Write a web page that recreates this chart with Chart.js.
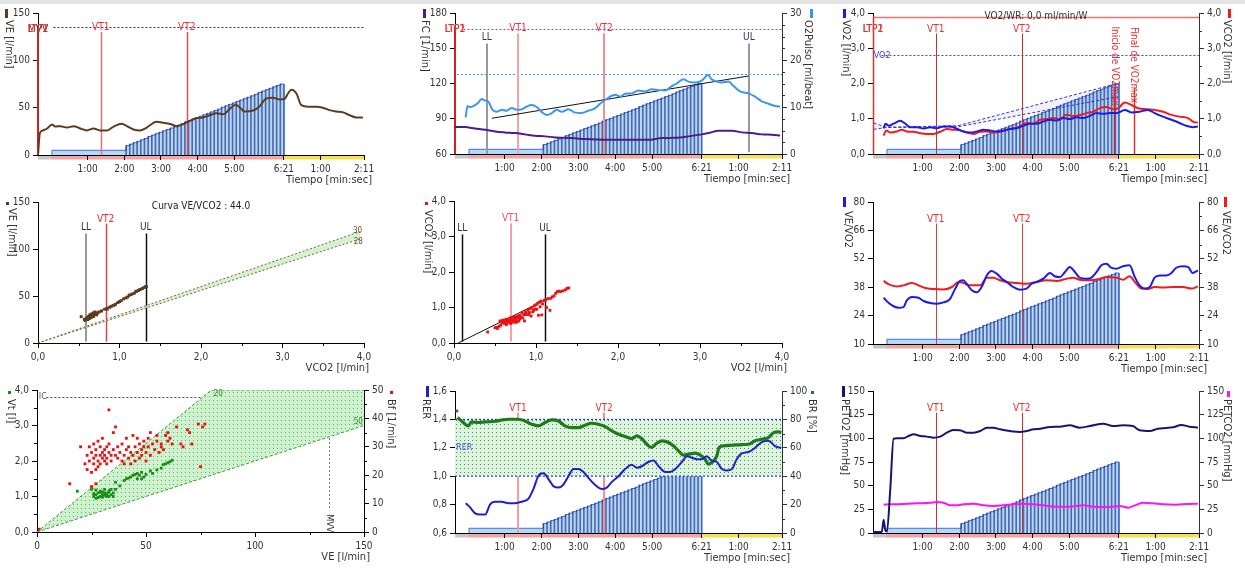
<!DOCTYPE html>
<html><head><meta charset="utf-8"><title>Prueba de esfuerzo</title>
<script src="https://cdn.jsdelivr.net/npm/chart.js@4.4.1/dist/chart.umd.min.js"></script>
<style>
html,body{margin:0;padding:0;background:#fff;}
body{position:relative;width:1245px;height:569px;overflow:hidden;}
.topband{position:absolute;left:0;top:0;width:1245px;height:4px;background:#e4e4e4;}
canvas{position:absolute;display:block;}
</style></head><body>
<div class="topband"></div>
<canvas id="p1" width="415" height="190" style="left:0px;top:0px"></canvas>
<canvas id="p2" width="415" height="190" style="left:415px;top:0px"></canvas>
<canvas id="p3" width="415" height="190" style="left:830px;top:0px"></canvas>
<canvas id="p4" width="415" height="189" style="left:0px;top:190px"></canvas>
<canvas id="p5" width="415" height="189" style="left:415px;top:190px"></canvas>
<canvas id="p6" width="415" height="189" style="left:830px;top:190px"></canvas>
<canvas id="p7" width="415" height="190" style="left:0px;top:379px"></canvas>
<canvas id="p8" width="415" height="190" style="left:415px;top:379px"></canvas>
<canvas id="p9" width="415" height="190" style="left:830px;top:379px"></canvas>
<script>
// ================= DATA =================
// time axis (minutes from start of exercise; recovery continues after 6:21)
const timeRange = [-0.35, 8.53];
const timeTickValues = [1, 2, 3, 4, 5, 6.35, 7.35, 8.53];
const timeTickLabels = ['1:00','2:00','3:00','4:00','5:00','6:21','1:00','2:11'];
const phaseBounds = [-0.35, 0, 6.35, 8.53];      // pre-test | test | recovery
const phaseColors = ['#c6c6c6', '#f4a4a4', '#f7e24e'];

// markers (minutes)
const LTP_T = -0.35, VT1_T = 1.36, VT2_T = 3.70, LL_T = 0.51, UL_T = 7.63;
const INICIO_T = 6.22, FINAL_T = 6.75;

// workload protocol (W) : warm-up + ramp steps
const warmupStart = 0.03, warmupLoad = 10, rampEnd = 6.35;
const rampTimes = [2.05,2.15,2.25,2.35,2.45,2.55,2.65,2.75,2.85,2.95,3.05,3.15,3.25,3.35,3.45,3.55,3.65,3.75,3.85,3.95,4.05,4.15,4.25,4.35,4.45,4.55,4.65,4.75,4.85,4.95,5.05,5.15,5.25,5.35,5.45,5.55,5.65,5.75,5.85,5.95,6.05,6.15,6.25];
const rampLoads = [20,23,26,29,32,35,39,42,45,48,51,54,57,60,63,66,70,73,76,79,82,85,88,91,94,97,101,104,107,110,113,116,119,122,125,128,132,135,138,141,144,147,150];

// Panel 1 : VE
const veTime = [-0.35,-0.30,-0.24,-0.10,0.03,0.12,0.26,0.44,0.62,0.80,0.98,1.16,1.34,1.53,1.71,1.93,2.07,2.25,2.43,2.61,2.88,3.07,3.25,3.43,3.61,3.79,3.97,4.15,4.33,4.51,4.70,4.88,5.04,5.15,5.28,5.51,5.69,5.87,6.05,6.24,6.37,6.46,6.55,6.69,6.82,7.01,7.23,7.41,7.59,7.78,7.96,8.14,8.32,8.50];
const veValues = [0,23,25.6,28,32.3,30,30.5,29,30.5,28,26,28,26,26,30,33,30.5,27,26,29,35,34,32.7,30.5,32.7,36,39,39.7,42,44,43,49,53,50,46,47,51.6,59.7,60.4,58.7,59.4,65,69,65,52.7,51,51,50,47.4,46,45,42,39.7,39.7];

// Panel 2 : FC and O2 pulse
const fcTime = [-0.35,-0.08,0.19,0.47,0.74,1.01,1.28,1.55,1.82,2.10,2.37,2.64,2.91,3.18,3.45,3.73,4.00,4.45,4.90,5.27,5.63,5.99,6.35,6.53,6.81,7.17,7.44,7.71,7.98,8.25,8.48];
const fcValues = [82.9,82.9,81.7,80.6,79.2,78.4,77.8,76.7,75.5,75.0,74.1,73.8,73.3,72.7,72.4,72.1,72.1,72.1,72.1,73.6,73.8,75.0,76.7,77.8,79.8,79.8,78.4,77.8,76.7,76.4,75.8];
const o2pTime = [-0.06,-0.01,0.06,0.15,0.28,0.37,0.46,0.56,0.66,0.78,0.92,1.05,1.19,1.33,1.46,1.60,1.73,1.87,2.01,2.14,2.28,2.41,2.55,2.73,2.91,3.09,3.27,3.45,3.59,3.73,3.86,4.00,4.13,4.27,4.45,4.63,4.81,4.99,5.18,5.36,5.49,5.67,5.85,5.99,6.17,6.35,6.52,6.62,6.76,6.90,7.08,7.21,7.39,7.62,7.80,7.98,8.16,8.35,8.48];
const o2pValues = [7.8,10.2,10.0,10.2,10.9,11.7,11.4,11.1,9.5,9.0,9.4,9.2,9.8,9.4,9.5,10.1,10.4,10.0,8.9,8.3,8.7,9.4,9.0,9.5,8.8,8.7,9.2,9.7,10.7,11.5,12.2,12.6,12.2,12.8,12.9,13.5,13.3,13.8,13.6,13.5,14.2,15.0,15.9,15.4,15.2,15.6,16.8,15.9,15.4,15.2,15.4,14.5,13.3,12.9,12.2,11.2,10.7,10.2,10.1];
const o2pRegTime = [0.65, 7.62];
const o2pRegValues = [7.6, 16.6];

// Panel 3 : VO2 and VCO2
const vo2Time = [-0.06,-0.01,0.08,0.21,0.39,0.53,0.66,0.85,1.03,1.21,1.39,1.57,1.75,1.93,2.11,2.29,2.48,2.66,2.84,3.02,3.20,3.38,3.56,3.74,3.93,4.11,4.29,4.47,4.65,4.83,5.01,5.19,5.37,5.56,5.74,5.92,6.10,6.28,6.51,6.69,6.91,7.14,7.32,7.55,7.78,8.00,8.18,8.36,8.50];
const vo2Values = [0.73,0.86,0.80,0.86,0.94,0.86,0.76,0.76,0.72,0.76,0.73,0.78,0.78,0.72,0.64,0.61,0.64,0.69,0.67,0.64,0.66,0.71,0.73,0.80,0.86,0.86,0.92,0.97,0.95,1.02,0.99,1.04,1.02,1.08,1.16,1.14,1.16,1.16,1.25,1.18,1.20,1.25,1.16,1.06,0.97,0.88,0.80,0.76,0.78];
const vco2Time = [-0.06,0.01,0.12,0.30,0.44,0.57,0.76,0.94,1.12,1.30,1.48,1.66,1.84,2.02,2.20,2.39,2.57,2.75,2.93,3.11,3.29,3.47,3.65,3.83,4.02,4.20,4.38,4.56,4.74,4.92,5.10,5.28,5.47,5.65,5.83,6.01,6.19,6.33,6.51,6.69,6.87,7.10,7.32,7.55,7.78,8.00,8.23,8.36,8.50];
const vco2Values = [0.52,0.67,0.61,0.64,0.69,0.64,0.63,0.59,0.57,0.57,0.63,0.71,0.69,0.67,0.61,0.57,0.63,0.64,0.61,0.63,0.69,0.73,0.78,0.88,0.86,0.97,0.99,1.02,0.99,1.11,1.08,1.10,1.16,1.20,1.30,1.33,1.27,1.30,1.46,1.39,1.30,1.27,1.25,1.20,1.11,1.06,1.02,0.92,0.89];
const predTime = [-0.33, 0.0, 1.95, 6.30];
const predHigh = [0.88, 0.76, 0.80, 2.00];
const predLow = [0.70, 0.75, 0.77, 1.62];

// Panel 4 : VE vs VCO2
const p4Vco2 = [0.53,0.57,0.58,0.59,0.60,0.61,0.62,0.63,0.63,0.64,0.65,0.66,0.67,0.68,0.68,0.69,0.70,0.71,0.72,0.73,0.75,0.78,0.82,0.85,0.88,0.90,0.93,0.95,0.98,1.00,1.02,1.05,1.08,1.10,1.12,1.15,1.18,1.20,1.23,1.25,1.28,1.30,1.32,1.33];
const p4Ve = [28,25,24,26,27,25,28,29,26,30,27,31,29,32,28,30,33,31,30,32,33,34,36,36,38,39,40,41,43,44,45,47,48,49,51,52,53,55,56,57,58,59,60,60];
const p4RegX = [0.56, 1.33];
const p4RegY = [25, 59];
const p4RefX = [0, 3.95];
const p4Ref30 = [0, 118.5];
const p4Ref28 = [0, 110.6];

// Panel 5 : VCO2 vs VO2
const p5Vo2 = [0.41,0.50,0.52,0.53,0.55,0.57,0.58,0.60,0.61,0.62,0.63,0.64,0.65,0.66,0.67,0.68,0.69,0.70,0.72,0.73,0.74,0.75,0.76,0.78,0.79,0.80,0.82,0.83,0.85,0.86,0.87,0.88,0.90,0.92,0.93,0.94,0.95,0.97,0.98,1.00,1.01,1.02,1.03,1.04,1.05,1.06,1.07,1.08,1.10,1.12,1.13,1.15,1.17,1.18,1.20,1.22,1.24,1.26,1.28,1.30,1.33,1.36,1.38,1.40,0.56,0.59,0.62,0.64,0.66,0.68,0.70,0.71,0.73,0.75,0.77,0.78,0.80,0.81,0.84,0.88,0.91,0.96,0.99];
const p5Vco2 = [0.31,0.43,0.44,0.41,0.47,0.50,0.58,0.62,0.55,0.65,0.60,0.52,0.66,0.58,0.63,0.70,0.55,0.66,0.62,0.72,0.68,0.58,0.74,0.70,0.62,0.78,0.72,0.85,0.80,0.62,0.88,0.80,0.92,0.86,0.97,0.76,1.00,0.92,1.05,1.08,0.95,1.12,0.78,1.15,1.02,1.18,0.79,1.10,1.20,1.22,1.00,1.25,0.92,1.26,1.30,1.33,1.40,1.45,1.46,1.45,1.47,1.50,1.54,1.55,0.62,0.64,0.58,0.67,0.64,0.60,0.72,0.58,0.64,0.66,0.60,0.76,0.68,0.74,0.70,0.84,0.80,0.88,0.95];
const p5RegX = [0.05, 1.12];
const p5RegY = [0.0, 1.22];

// Panel 6 : VE/VO2 and VE/VCO2
const eqO2Time = [-0.06,0.08,0.21,0.35,0.48,0.57,0.71,0.89,1.03,1.21,1.39,1.57,1.75,1.89,2.02,2.11,2.20,2.34,2.48,2.61,2.75,2.88,3.02,3.16,3.29,3.47,3.65,3.83,3.97,4.11,4.29,4.47,4.60,4.74,4.88,5.01,5.15,5.28,5.47,5.60,5.74,5.87,6.01,6.14,6.28,6.46,6.64,6.78,6.91,7.05,7.19,7.32,7.46,7.64,7.78,7.91,8.09,8.23,8.36,8.50];
const eqO2Values = [32.8,30.2,28.6,27.9,28.2,31.5,33.2,32.8,31.2,30.2,29.9,30.5,32.3,37.3,41.1,41.4,39.7,36.5,35.5,38.1,43.8,46.0,44.7,42.2,40.6,38.1,36.8,37.3,39.7,40.6,42.2,45.0,43.4,43.0,45.5,48.0,45.5,42.7,42.2,42.7,45.5,48.8,49.6,47.6,47.1,48.3,48.8,43.0,38.9,37.3,38.1,42.7,43.8,43.8,45.0,47.6,48.3,48.0,45.0,46.3];
const eqCO2Time = [-0.06,0.08,0.30,0.48,0.71,0.89,1.07,1.30,1.57,1.80,1.98,2.11,2.29,2.57,2.75,2.93,3.11,3.29,3.56,3.83,4.11,4.38,4.65,4.92,5.10,5.28,5.56,5.83,6.01,6.28,6.46,6.64,6.78,6.96,7.14,7.32,7.55,7.82,8.09,8.32,8.50];
const eqCO2Values = [41.1,39.4,38.4,38.9,40.1,38.9,37.6,37.1,36.9,38.1,40.6,40.1,38.9,38.9,42.7,42.7,41.4,40.6,40.1,39.7,40.6,41.4,41.1,42.2,42.7,41.7,41.4,42.2,43.0,42.7,41.7,43.4,40.6,37.3,37.1,38.1,37.8,38.1,38.1,37.3,38.4];

// Panel 7 : Vt and Bf vs VE
const p7VtVe = [18.5,25,26,27,27,28,29,29,30,30,31,31,32,32,33,33,34,35,35,28,26,34,36,38,40,41,42,43,44,45,46,47,48,49,50,52,53,55,57,58,59,60,61,62,46,48,36,29,31,33,27,30,32];
const p7Vt = [1.15,1.2,1.0,0.95,1.05,1.1,1.0,1.15,1.05,0.98,1.1,1.2,1.0,1.08,1.12,1.0,1.05,1.1,1.0,0.97,1.08,1.2,1.2,1.3,1.45,1.5,1.52,1.55,1.6,1.62,1.65,1.6,1.68,1.55,1.62,1.72,1.65,1.75,1.8,1.9,1.92,1.95,1.98,2.02,1.5,1.5,1.4,1.12,1.03,1.16,1.18,1.13,1.06];
const p7BfVe = [22,23,23,24,24,25,25,26,26,26,27,27,27,28,28,28,29,29,29,30,30,30,31,31,31,32,32,32,33,33,34,34,35,35,36,36,37,37,38,39,39,40,40,41,41,42,42,43,43,44,44,45,45,46,46,47,47,48,48,49,49,50,50,51,51,52,52,53,54,55,55,56,57,57,58,59,60,60,61,62,64,66,67,69,70,71,74,75,76,77,15,20,25,27,33,1];
const p7Bf = [24,27,22,25,30,21,28,24,26,31,22,27,29,25,23,32,27,30,24,26,28,33,25,29,27,30,26,24,28,31,27,25,29,35,37,27,30,26,28,25,31,27,24,29,33,26,30,28,24,34,27,30,25,28,33,31,26,29,27,32,30,28,25,33,30,27,35,31,29,32,34,28,30,31,29,34,32,35,33,31,37,31,30,36,35,31,38,23,37,38,17,30,16,17,43,1];
const p7ZoneVe = [0, 80, 150];
const p7ZoneHigh = [0, 4.0, 4.0];
const p7ZoneLow = [0, 1.6, 3.0];

// Panel 8 : RER and BR
const rerTime = [-0.06,0.06,0.19,0.33,0.47,0.60,0.74,0.92,1.10,1.28,1.46,1.64,1.78,1.91,2.05,2.19,2.32,2.46,2.59,2.73,2.87,3.00,3.14,3.27,3.45,3.64,3.77,3.91,4.09,4.27,4.45,4.59,4.72,4.90,5.04,5.18,5.36,5.49,5.63,5.81,5.95,6.08,6.22,6.35,6.49,6.62,6.76,6.90,7.03,7.17,7.30,7.44,7.62,7.80,7.98,8.16,8.35,8.51];
const rerValues = [0.81,0.78,0.74,0.73,0.73,0.80,0.82,0.82,0.81,0.81,0.82,0.84,0.91,1.00,1.02,0.98,0.93,0.92,0.94,1.00,1.05,1.05,1.03,0.99,0.94,0.91,0.92,0.96,1.00,1.05,1.08,1.06,1.07,1.10,1.11,1.07,1.03,1.03,1.05,1.10,1.14,1.13,1.12,1.12,1.14,1.11,1.10,1.05,1.04,1.05,1.12,1.16,1.17,1.20,1.24,1.25,1.21,1.20];
const brTime = [-0.28,-0.17,0.01,0.10,0.28,0.47,0.74,0.92,1.10,1.37,1.55,1.73,1.91,2.10,2.28,2.46,2.64,2.82,3.00,3.18,3.36,3.54,3.73,3.91,4.09,4.27,4.45,4.59,4.72,4.86,4.99,5.13,5.27,5.45,5.58,5.72,5.85,5.99,6.17,6.31,6.44,6.53,6.67,6.76,6.82,6.94,7.17,7.44,7.62,7.80,7.98,8.16,8.30,8.44,8.51];
const brValues = [81.3,78.9,75.4,78.2,77.8,78.2,78.7,79.6,80.1,80.1,78.9,76.6,75.4,77.8,79.6,78.9,75.4,74.2,74.2,75.9,77.3,76.6,74.9,71.9,69.6,67.9,66.5,68.4,66.5,62.5,60.2,63.2,64.9,63.7,61.4,57.8,54.8,55.5,56.2,54.8,52.0,48.5,50.8,54.3,60.2,61.4,61.8,62.3,62.5,64.9,66.0,67.2,70.7,71.2,70.7];
const brOutlierTime = [-0.30];
const brOutlierValue = [85.9];
const brZoneTime = [-0.35, 8.53];
const brZoneHigh = [80, 80];
const brZoneLow = [40, 40];

// Panel 9 : PETO2 and PETCO2
const peto2Time = [-0.35,-0.11,-0.06,-0.01,0.03,0.12,0.21,0.30,0.48,0.62,0.76,0.94,1.12,1.30,1.48,1.66,1.84,2.02,2.20,2.39,2.57,2.75,2.93,3.11,3.38,3.65,3.83,4.02,4.20,4.47,4.74,5.01,5.28,5.56,5.92,6.19,6.46,6.73,6.91,7.19,7.41,7.64,7.82,8.05,8.27,8.50];
const peto2Values = [1,1,14,2,2,46,99.6,100,100,102.5,104.2,102.5,101.8,100.7,101.8,106,108.8,108.5,106,106,107.7,111.3,111.3,109.5,107.7,106.7,107.7,109.5,110.2,112,112.3,113.7,111.3,113,115.5,113,113.7,113,108.5,107.7,110.2,110.9,111.6,114.1,112.3,111.3];
const petco2Time = [-0.06,0.12,0.48,0.85,1.21,1.39,1.57,1.75,1.93,2.11,2.39,2.66,2.93,3.20,3.47,3.74,4.02,4.29,4.65,5.01,5.37,5.74,6.10,6.37,6.60,6.78,7.00,7.28,7.55,7.91,8.18,8.50];
const petco2Values = [29.9,30.3,30.6,31.3,32,32.7,32,29.2,29.2,30.3,31,29.2,28.5,29.2,30.3,31,30.3,29.2,27.8,27.8,29.2,27.5,27.5,28.5,26.8,29.2,32,31.3,30.3,29.9,30.6,31];

// tick label values
const veTicks = [0, 50, 100, 150];
const fcTicks = [60, 90, 120, 150, 180];
const o2pTicks = [0, 10, 20, 30];
const litreTicks = [0, 1, 2, 3, 4];
const eqTicks = [10, 24, 38, 52, 66, 80];
const rerTicks = [0.6, 0.8, 1.0, 1.2, 1.4, 1.6];
const brTicks = [0, 20, 40, 60, 80, 100];
const petTicks = [0, 25, 50, 75, 100, 125, 150];
const bfTicks = [0, 10, 20, 30, 40, 50];

// ================= RENDERING =================
const FF = '"Liberation Sans Narrow","DejaVu Sans Condensed","Liberation Sans",Arial,sans-serif';
Chart.defaults.font.family = FF;
Chart.defaults.font.size = 10;
Chart.defaults.color = '#333';

const C = {
  brown:'#5e3c1e', fc:'#4b1c8c', o2p:'#3a96f0', vo2:'#1c1ce8', vco2:'#f01c1c',
  rer:'#2020c8', br:'#1f7a1f', peto2:'#16166e', petco2:'#ff10ff', red:'#e83030'
};

const xy = (xs, ys) => xs.map((x, i) => ({x: x, y: ys[i]}));
const intFmt = v => String(v);
const commaFmt = v => v.toFixed(1).replace('.', ',');

function dotPattern(bg, dot) {
  const c = document.createElement('canvas'); c.width = 4; c.height = 4;
  const g = c.getContext('2d');
  g.fillStyle = bg; g.fillRect(0, 0, 4, 4);
  g.fillStyle = dot; g.fillRect(1, 1, 1, 1);
  return document.createElement('canvas').getContext('2d').createPattern(c, 'repeat');
}

function axis(pos, min, max, ticks, fmt, color) {
  return {
    type:'linear', position:pos, min:min, max:max, bounds:'data', offset:false,
    afterBuildTicks: s => { s.ticks = ticks.map(v => ({value:v})); },
    ticks:{autoSkip:false, maxRotation:0, minRotation:0, padding:3, color:'#333', font:{size:10},
           callback:(v, i) => fmt(v, i)},
    grid:{display:true, drawOnChartArea:false, drawTicks:true, tickLength:5, color:color || '#000', offset:false},
    border:{display:true, color:color || '#000', width:1}
  };
}
const timeAxis = () => axis('bottom', timeRange[0], timeRange[1], timeTickValues, (v, i) => timeTickLabels[i]);
const workAxis = () => ({type:'linear', display:false, min:0, max:300, position:'left'});

function line(data, color, axisId, width, extra) {
  const ds = Object.assign({type:'line', data:data, borderColor:color, backgroundColor:color, borderWidth:width || 2,
    pointRadius:0, tension:0.4, cubicInterpolationMode:'monotone', yAxisID:axisId, fill:false, order:1}, extra || {});
  if (ds.tension === 0) ds.cubicInterpolationMode = 'default';
  return ds;
}
function points(data, color, axisId, r) {
  return {type:'line', data:data, showLine:false, pointRadius:r || 2.1, pointStyle:'rect', pointBorderWidth:0,
    pointBackgroundColor:color, borderColor:color, backgroundColor:color, yAxisID:axisId, order:1};
}
function workloadSets() {
  const pts = [{x:warmupStart, y:0}, {x:warmupStart, y:warmupLoad}];
  rampTimes.forEach((t, i) => {
    pts.push({x:t, y:i === 0 ? warmupLoad : rampLoads[i - 1]});
    pts.push({x:t, y:rampLoads[i]});
  });
  pts.push({x:rampEnd, y:rampLoads[rampLoads.length - 1]});
  pts.push({x:rampEnd, y:0});
  return [
    {type:'line', data:pts, yAxisID:'w', borderColor:'rgba(55,95,205,0.9)', borderWidth:1,
     backgroundColor:'rgba(165,210,248,0.85)', fill:'origin', pointRadius:0, tension:0,
     cubicInterpolationMode:'default', order:20},
    {type:'bar', data:xy(rampTimes, rampLoads), yAxisID:'w', backgroundColor:'rgba(22,36,125,0.62)', barThickness:1,
     order:19, isWorkload:true}
  ];
}

function drawLines(chart, o) {
  const ctx = chart.ctx, ca = chart.chartArea, xs = chart.scales.x;
  ctx.save();
  (o.hlines || []).forEach(h => {
    const ys = chart.scales[h.axis || 'y'];
    const y = Math.round(ys.getPixelForValue(h.v)) + 0.5;
    const x0 = h.from != null ? xs.getPixelForValue(h.from) : ca.left;
    const x1 = h.to != null ? xs.getPixelForValue(h.to) : ca.right;
    ctx.strokeStyle = h.color; ctx.lineWidth = h.width || 1; ctx.setLineDash(h.dash || []);
    ctx.beginPath(); ctx.moveTo(x0, y); ctx.lineTo(x1, y); ctx.stroke();
  });
  (o.vlines || []).forEach(l => {
    const ys = chart.scales[l.axis || 'y'];
    const w = l.width || 1;
    const x = Math.round(xs.getPixelForValue(l.x)) + (w % 2 ? 0.5 : 0);
    const y0 = ys.getPixelForValue(l.top);
    const y1 = l.bottom != null ? ys.getPixelForValue(l.bottom) : ca.bottom;
    ctx.strokeStyle = l.color; ctx.lineWidth = w; ctx.setLineDash(l.dash || []);
    ctx.beginPath(); ctx.moveTo(x, y0); ctx.lineTo(x, y1); ctx.stroke();
  });
  ctx.restore();
}

function drawMinor(chart, o) {
  const ctx = chart.ctx, ca = chart.chartArea;
  (o.minor || []).forEach(m => {
    const s = chart.scales[m.axis];
    const n = Math.round((s.max - s.min) / m.step);
    ctx.save(); ctx.strokeStyle = m.color || '#000'; ctx.lineWidth = 1; ctx.beginPath();
    for (let i = 1; i < n; i++) {
      const v = s.min + i * m.step;
      if (s.ticks.some(t => Math.abs(t.value - v) < 1e-6)) continue;
      const p = Math.round(s.getPixelForValue(v)) + 0.5;
      if (s.position === 'bottom') { ctx.moveTo(p, ca.bottom); ctx.lineTo(p, ca.bottom + 3); }
      else if (s.position === 'left') { ctx.moveTo(ca.left - 3, p); ctx.lineTo(ca.left, p); }
      else { ctx.moveTo(ca.right, p); ctx.lineTo(ca.right + 3, p); }
    }
    ctx.stroke(); ctx.restore();
  });
}

function drawTexts(chart, o) {
  const ctx = chart.ctx, ca = chart.chartArea, xs = chart.scales.x;
  ctx.save();
  ctx.textBaseline = 'middle';
  (o.vlines || []).forEach(l => {
    if (!l.label) return;
    const ys = chart.scales[l.axis || 'y'];
    ctx.font = '10px ' + FF; ctx.fillStyle = l.labelColor || l.color; ctx.textAlign = 'center';
    ctx.fillText(l.label, xs.getPixelForValue(l.x), ys.getPixelForValue(l.top) - (l.gap || 4.5));
  });
  (o.texts || []).forEach(t => {
    const ys = chart.scales[t.axis || 'y'];
    const x = (t.x === 'center' ? (ca.left + ca.right) / 2 : xs.getPixelForValue(t.x)) + (t.dx || 0);
    const y = (t.y != null ? ys.getPixelForValue(t.y) : ca.top + t.top) + (t.dy || 0);
    ctx.font = (t.size || 10) + 'px ' + FF; ctx.fillStyle = t.color || '#333';
    if (t.rot) {
      ctx.save(); ctx.translate(x, y); ctx.rotate(Math.PI / 2); ctx.textAlign = 'left';
      ctx.fillText(t.text, 0, 0); ctx.restore();
    } else { ctx.textAlign = t.align || 'center'; ctx.fillText(t.text, x, y); }
  });
  (o.titles || []).forEach(t => {
    if (t.marker) { ctx.fillStyle = t.marker.color; ctx.fillRect(t.marker.x, t.marker.y, t.marker.w, t.marker.h); }
    ctx.save(); ctx.translate(t.cx, t.y0); ctx.rotate(Math.PI / 2);
    ctx.font = '11px ' + FF; ctx.fillStyle = '#333'; ctx.textAlign = 'left';
    ctx.fillText(t.text, 0, 0); ctx.restore();
  });
  if (o.xTitle) {
    ctx.font = '11px ' + FF; ctx.fillStyle = '#333'; ctx.textAlign = 'right';
    ctx.fillText(o.xTitle.text, ca.right + o.xTitle.dx, ca.bottom + o.xTitle.dy);
  }
  ctx.restore();
  drawMinor(chart, o);
}

const decoPlugin = {
  id:'deco',
  beforeDraw(chart, a, o) {
    if (!o.phases) return;
    const ctx = chart.ctx, ca = chart.chartArea, x = chart.scales.x;
    for (let i = 0; i < phaseBounds.length - 1; i++) {
      const p0 = x.getPixelForValue(phaseBounds[i]), p1 = x.getPixelForValue(phaseBounds[i + 1]);
      ctx.fillStyle = phaseColors[i];
      ctx.fillRect(p0, ca.bottom + 1, p1 - p0, 3.5);
    }
  },
  beforeDatasetsDraw(chart, a, o) { if (!o.afterWorkload) drawLines(chart, o); },
  afterDatasetDraw(chart, a, o) {
    if (o.afterWorkload && chart.data.datasets[a.index].isWorkload) drawLines(chart, o);
  },
  afterDraw(chart, a, o) { drawTexts(chart, o); }
};

function makeChart(id, area, scales, datasets, deco) {
  const cv = document.getElementById(id);
  const W = cv.width, H = cv.height;
  scales.x.afterFit = s => { s.height = H - area.B; };
  if (scales.y) scales.y.afterFit = s => { s.width = area.L; };
  if (scales.y2) scales.y2.afterFit = s => { s.width = W - area.R; };
  return new Chart(cv, {
    type:'line',
    data:{datasets:datasets},
    options:{
      responsive:false, maintainAspectRatio:false, devicePixelRatio:1, animation:false, events:[],
      layout:{autoPadding:false, padding:{top:area.T, left:0, bottom:0, right:scales.y2 ? 0 : W - area.R}},
      scales:scales,
      plugins:{legend:{display:false}, tooltip:{enabled:false}, deco:deco}
    },
    plugins:[decoPlugin]
  });
}

const TX = {text:'Tiempo [min:sec]', dx:8, dy:25};
const bar = (x, y, h, color) => ({x:x, y:y, w:3, h:h, color:color});
const sq = (x, y, color) => ({x:x, y:y, w:3, h:3, color:color});

// ---- Panel 1 : VE vs time
makeChart('p1', {L:38, R:364, T:13, B:155},
  {x:timeAxis(), y:axis('left', 0, 150, veTicks, intFmt), w:workAxis()},
  [line(xy(veTime, veValues), C.brown, 'y', 2)].concat(workloadSets()),
  {phases:true, afterWorkload:true,
   hlines:[{v:135, from:0.07, color:'#333', dash:[2,2]}],
   vlines:[{x:LTP_T, top:137, color:'#d02020', width:2},
           {x:VT1_T, top:130, color:'#f07070', width:1.5, label:'VT1', labelColor:C.red},
           {x:VT2_T, top:130, color:'#e05050', width:1.5, label:'VT2', labelColor:C.red}],
   texts:[{text:'MVV', x:LTP_T, top:16, color:'#333'},
          {text:'LTP1', x:LTP_T, top:16, color:C.red}, {text:'LTP2', x:LTP_T, top:16, color:C.red}],
   titles:[{text:'VE [l/min]', cx:9, y0:20, marker:bar(5, 9, 9, C.brown)}],
   xTitle:TX});

// ---- Panel 2 : FC and O2 pulse
makeChart('p2', {L:40, R:367, T:13, B:154},
  {x:timeAxis(), y:axis('left', 60, 180, fcTicks, intFmt), y2:axis('right', 0, 30, o2pTicks, intFmt, '#333'), w:workAxis()},
  [line(xy(o2pTime, o2pValues), C.o2p, 'y2', 2),
   line(xy(fcTime, fcValues), C.fc, 'y', 2),
   line(xy(o2pRegTime, o2pRegValues), '#111', 'y2', 1, {tension:0})].concat(workloadSets()),
  {phases:true, afterWorkload:true,
   hlines:[{v:166, from:-0.12, color:'#9050b0', dash:[2,2]},
           {axis:'y2', v:17, from:-0.3, color:'#3090f0', dash:[2,2]}],
   vlines:[{x:LTP_T, top:169.6, color:'#d02020', width:2},
           {x:VT1_T, top:162.8, color:'#f4a4a4', width:2, label:'VT1', labelColor:C.red},
           {x:VT2_T, top:162.8, color:'#f09090', width:2, label:'VT2', labelColor:C.red},
           {x:LL_T, top:154, color:'#9a9a9a', width:2, label:'LL', labelColor:'#3a3050', gap:6},
           {x:UL_T, top:154, bottom:61.5, color:'#9a9a9a', width:2, label:'UL', labelColor:'#3a3050', gap:6}],
   texts:[{text:'LTP1', x:LTP_T, top:16, color:C.red}, {text:'LTP2', x:LTP_T, top:16, color:C.red}],
   minor:[{axis:'y2', step:2.5, color:'#333'}],
   titles:[{text:'FC [1/min]', cx:10, y0:20, marker:bar(8, 9, 9, C.fc)},
           {text:'O2Pulso [ml/beat]', cx:393, y0:20, marker:bar(395, 9, 9, C.o2p)}],
   xTitle:TX});

// ---- Panel 3 : VO2 and VCO2
makeChart('p3', {L:43, R:369, T:13, B:154},
  {x:timeAxis(), y:axis('left', 0, 4, litreTicks, commaFmt), y2:axis('right', 0, 4, litreTicks, commaFmt, '#333'), w:workAxis()},
  [line(xy(vo2Time, vo2Values), C.vo2, 'y', 2),
   line(xy(vco2Time, vco2Values), C.vco2, 'y2', 2),
   line(xy(predTime, predHigh), '#3535d8', 'y', 1, {tension:0, borderDash:[3,2], order:5}),
   line(xy(predTime, predLow), '#3535d8', 'y', 1, {tension:0, borderDash:[3,2], order:5,
        fill:'-1', backgroundColor:'rgba(90,90,230,0.08)'})].concat(workloadSets()),
  {phases:true, afterWorkload:true,
   hlines:[{v:3.9, color:'#f07070', width:1.5},
           {v:2.8, from:-0.12, color:'#4040e8', dash:[2,2]}],
   vlines:[{x:LTP_T, top:3.9, color:'#e03030', width:1.5},
           {x:VT1_T, top:3.42, color:'#c83030', width:1, label:'VT1', labelColor:C.red},
           {x:VT2_T, top:3.42, color:'#c83030', width:1, label:'VT2', labelColor:C.red},
           {x:INICIO_T, top:1.9, color:'#d02020', width:1.5},
           {x:FINAL_T, top:1.87, color:'#d83030', width:1.5}],
   texts:[{text:'VO2/WR: 0,0 ml/min/W', x:'center', y:3.9, color:'#333'},
          {text:'VO2', x:-0.33, y:2.8, align:'left', size:9, color:'#4040e8'},
          {text:'LTP1', x:LTP_T, top:16, color:C.red}, {text:'LTP2', x:LTP_T, top:16, color:C.red},
          {text:'Inicio de VO2max', x:INICIO_T, y:3.62, rot:true, color:C.red},
          {text:'Final de VO2max', x:FINAL_T, y:3.6, rot:true, color:C.red}],
   minor:[{axis:'y2', step:0.5, color:'#333'}],
   titles:[{text:'VO2 [l/min]', cx:16, y0:20, marker:bar(13, 9, 9, C.vo2)},
           {text:'VCO2 [l/min]', cx:397, y0:20, marker:bar(398, 9, 9, C.vco2)}],
   xTitle:TX});

// ---- Panel 4 : VE vs VCO2
makeChart('p4', {L:38, R:364, T:12, B:153},
  {x:axis('bottom', 0, 4, litreTicks, commaFmt), y:axis('left', 0, 150, veTicks, intFmt)},
  [points(xy(p4Vco2, p4Ve), C.brown, 'y', 2.1),
   line(xy(p4RegX, p4RegY), '#111', 'y', 1, {tension:0}),
   line(xy(p4RefX, p4Ref30), '#7a6040', 'y', 1, {tension:0, borderDash:[2,2], order:5}),
   line(xy(p4RefX, p4Ref28), '#7a6040', 'y', 1, {tension:0, borderDash:[2,2], order:5, fill:'-1', backgroundColor:'rgba(200,240,195,0.8)'})],
  {vlines:[{x:0.588, top:116.5, bottom:1.5, color:'#9a9a9a', width:2, label:'LL', labelColor:'#333', gap:6},
           {x:0.829, top:127, bottom:1.5, color:'#e04040', width:1.5, label:'VT2', labelColor:C.red},
           {x:1.322, top:116.5, bottom:1.5, color:'#111', width:1.5, label:'UL', labelColor:'#333', gap:6}],
   texts:[{text:'Curva VE/VCO2 : 44.0', x:'center', top:4, color:'#222'},
          {text:'30', x:3.92, y:119, size:8, color:'#6a5030'},
          {text:'28', x:3.93, y:108, size:8, color:'#6a5030'}],
   minor:[{axis:'x', step:0.5}],
   titles:[{text:'VE [l/min]', cx:12, y0:18, marker:sq(6, 12, C.brown)}],
   xTitle:{text:'VCO2 [l/min]', dx:5, dy:25}});

// ---- Panel 5 : VCO2 vs VO2
makeChart('p5', {L:39, R:367, T:11, B:153},
  {x:axis('bottom', 0, 4, litreTicks, commaFmt), y:axis('left', 0, 4, litreTicks, commaFmt)},
  [points(xy(p5Vo2, p5Vco2), '#ee1010', 'y', 2),
   line(xy(p5RegX, p5RegY), '#111', 'y', 1, {tension:0})],
  {vlines:[{x:0.10, top:3.06, bottom:0.04, color:'#111', width:1.5, label:'LL', labelColor:'#333', gap:6},
           {x:0.69, top:3.37, bottom:0.04, color:'#f4a0a8', width:2, label:'VT1', labelColor:'#f05060'},
           {x:1.11, top:3.06, bottom:0.04, color:'#111', width:1.5, label:'UL', labelColor:'#333', gap:6}],
   minor:[{axis:'x', step:0.5}],
   titles:[{text:'VCO2 [l/min]', cx:13, y0:20, marker:sq(10, 12, '#ee1010')}],
   xTitle:{text:'VO2 [l/min]', dx:5, dy:25}});

// ---- Panel 6 : equivalents
makeChart('p6', {L:43, R:369, T:12, B:154},
  {x:timeAxis(), y:axis('left', 10, 80, eqTicks, intFmt), y2:axis('right', 10, 80, eqTicks, intFmt, '#333'), w:workAxis()},
  [line(xy(eqO2Time, eqO2Values), C.vo2, 'y', 2),
   line(xy(eqCO2Time, eqCO2Values), C.vco2, 'y2', 2)].concat(workloadSets()),
  {phases:true, afterWorkload:true,
   vlines:[{x:VT1_T, top:69.4, color:'#d04040', width:1, label:'VT1', labelColor:C.red},
           {x:VT2_T, top:69.4, color:'#d04040', width:1, label:'VT2', labelColor:C.red}],
   minor:[{axis:'y2', step:7, color:'#333'}],
   titles:[{text:'VE/VO2', cx:18, y0:21, marker:bar(13, 7, 10, C.vo2)},
           {text:'VE/VCO2', cx:396, y0:21, marker:bar(394, 7, 10, C.vco2)}],
   xTitle:TX});

// ---- Panel 7 : Vt / Bf vs VE
makeChart('p7', {L:37, R:364, T:11, B:153},
  {x:axis('bottom', 0, 150, veTicks, intFmt), y:axis('left', 0, 4, litreTicks, commaFmt), y2:axis('right', 0, 50, bfTicks, intFmt)},
  [line(xy(p7ZoneVe, p7ZoneHigh), '#3a9a3a', 'y', 1, {tension:0, borderDash:[3,2], order:6}),
   line(xy(p7ZoneVe, p7ZoneLow), '#3a9a3a', 'y', 1, {tension:0, borderDash:[3,2], order:6, fill:'-1',
        backgroundColor:dotPattern('rgba(205,242,205,1)', '#6aaa6a')}),
   points(xy(p7VtVe, p7Vt), '#189018', 'y', 2),
   points(xy(p7BfVe, p7Bf), '#ee1010', 'y2', 2)],
  {hlines:[{v:3.8, from:4.3, color:'#555', dash:[2,2]}],
   vlines:[{x:134, top:4.0, bottom:0.61, color:'#777', width:1, dash:[2,2]}],
   texts:[{text:'IC', x:0.8, y:3.8, align:'left', size:9, color:'#555'},
          {text:'MVV', x:134, y:0.5, rot:true, size:9, color:'#333'},
          {text:'20', x:81, y:3.88, align:'left', size:8, color:'#2a8a2a'},
          {text:'50', x:149.5, y:3.1, align:'right', size:8, color:'#2a8a2a'}],
   minor:[{axis:'x', step:25}, {axis:'y', step:0.5}, {axis:'y2', step:5}],
   titles:[{text:'Vt [l]', cx:11, y0:20, marker:sq(8, 12, '#189018')},
           {text:'Bf [1/min]', cx:391, y0:20, marker:sq(390, 12, '#ee1010')}],
   xTitle:{text:'VE [l/min]', dx:6, dy:25}});

// ---- Panel 8 : RER and BR
makeChart('p8', {L:40, R:367, T:12, B:154},
  {x:timeAxis(), y:axis('left', 0.6, 1.6, rerTicks, commaFmt), y2:axis('right', 0, 100, brTicks, intFmt, '#333'), w:workAxis()},
  [line(xy(brZoneTime, brZoneHigh), '#3040e0', 'y2', 1.2, {tension:0, borderDash:[2,2], order:8}),
   line(xy(brZoneTime, brZoneLow), '#3040e0', 'y2', 1.2, {tension:0, borderDash:[2,2], order:8, fill:'-1',
        backgroundColor:dotPattern('rgba(218,245,215,1)', '#5a78a0')}),
   line(xy(rerTime, rerValues), C.rer, 'y', 2),
   line(xy(brTime, brValues), C.br, 'y2', 3.2),
   points(xy(brOutlierTime, brOutlierValue), C.br, 'y2', 2)].concat(workloadSets()),
  {phases:true, afterWorkload:true,
   vlines:[{x:VT1_T, top:1.448, color:'#f4a0a0', width:2, label:'VT1', labelColor:C.red},
           {x:VT2_T, top:1.448, color:'#f09090', width:2, label:'VT2', labelColor:C.red}],
   texts:[{text:'RER', x:-0.32, y:1.2, align:'left', size:9, color:'#4050e0'}],
   minor:[{axis:'y2', step:10, color:'#333'}],
   titles:[{text:'RER', cx:11, y0:20, marker:bar(11, 7, 11, C.rer)},
           {text:'BR [%]', cx:397, y0:20, marker:sq(396, 12, C.br)}],
   xTitle:TX});

// ---- Panel 9 : PETO2 and PETCO2
makeChart('p9', {L:43, R:369, T:12, B:154},
  {x:timeAxis(), y:axis('left', 0, 150, petTicks, intFmt), y2:axis('right', 0, 150, petTicks, intFmt, '#333'), w:workAxis()},
  [line(xy(peto2Time, peto2Values), C.peto2, 'y', 2),
   line(xy(petco2Time, petco2Values), C.petco2, 'y2', 2)].concat(workloadSets()),
  {phases:true, afterWorkload:true,
   vlines:[{x:VT1_T, top:127, color:'#d03030', width:1, label:'VT1', labelColor:C.red},
           {x:VT2_T, top:127, color:'#d03030', width:1, label:'VT2', labelColor:C.red}],
   titles:[{text:'PETO2 [mmHg]', cx:15, y0:20, marker:bar(12, 7, 11, C.peto2)},
           {text:'PETCO2 [mmHg]', cx:397, y0:20, marker:bar(397, 12, 6, C.petco2)}],
   xTitle:TX});
</script>
</body></html>
